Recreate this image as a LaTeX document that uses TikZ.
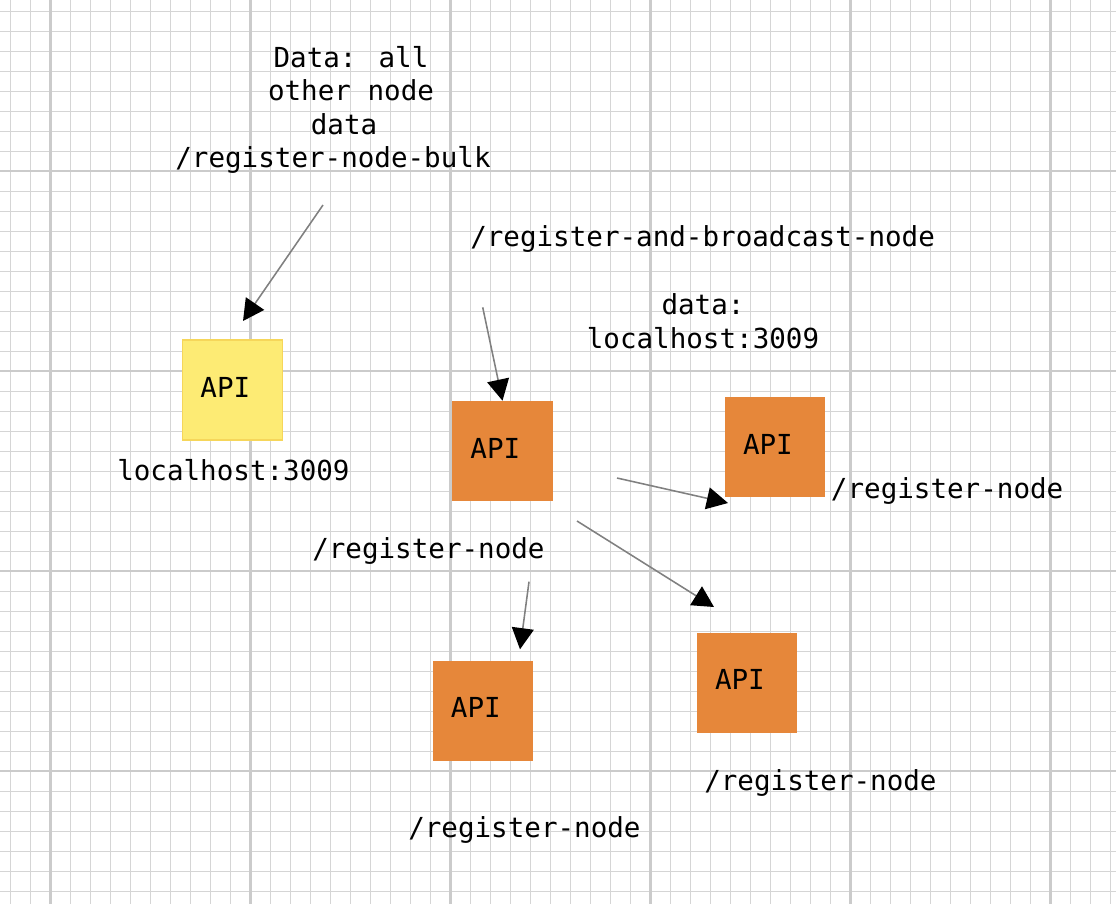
\documentclass[tikz,border=0pt]{standalone}
\usepackage{fontspec}
\usepackage{tikz}
\usetikzlibrary{arrows.meta}
\newfontfamily\apimono{DejaVu Sans Mono}
\definecolor{apiorange}{RGB}{230,135,58}
\definecolor{apiyellow}{RGB}{253,235,116}
\definecolor{apiyellowline}{RGB}{246,214,90}
\definecolor{gridminor}{RGB}{213,213,213}
\definecolor{gridmajor}{RGB}{203,203,203}
\tikzset{
  minorline/.style={gridminor,line width=0.7pt},
  majorline/.style={gridmajor,line width=1.6pt},
  apibox/.style={minimum height=2.5cm,text width=1.6cm,inner xsep=0.45cm,
                 inner ysep=0pt,align=left,text depth=0.15cm},
  lab/.style={anchor=base west,inner sep=0pt},
  arr/.style={gray,line width=1.1pt,
              -{Triangle[length=5.3mm,width=5.5mm,color=black]}}
}

\begin{document}
\begin{tikzpicture}[x=0.025cm,y=-0.025cm,
    font=\apimono\fontsize{19.6pt}{23.8pt}\selectfont]
\useasboundingbox (0,0) rectangle (1116,904);
\fill[white] (0,0) rectangle (1116,904); % sfondo

% griglia
\foreach \x in {10.5,30.5,...,1111}
  \draw[minorline] (\x,0) -- (\x,904);
\foreach \y in {11,31,...,904}
  \draw[minorline] (0,\y) -- (1116,\y);
\foreach \x in {50.5,250.5,...,1111}
  \draw[majorline] (\x,0) -- (\x,904);
\foreach \y in {171,371,...,904}
  \draw[majorline] (0,\y) -- (1116,\y);

% nodo che riceve i dati di tutti gli altri
\node[align=center,anchor=base,inner sep=0pt] (bulk) at (333,167.5)
     {\hspace*{0.9cm}Data: all\\\hspace*{0.9cm}other node\\
      \hspace*{0.55cm}data\\/register-node-bulk}; % base = ultima riga
\node[apibox,fill=apiyellow,draw=apiyellowline,line width=1pt] (api0)
     at (232.5,390) {API};
\node[lab] (host0) at (117,480) {localhost:3009};

% nodo che fa il broadcast
\node[lab] (bcast) at (470,246.7) {/register-and-broadcast-node};
\node[align=center,anchor=base,inner sep=0pt] (bdata) at (703,348)
     {data:\\localhost:3009};
\node[apibox,fill=apiorange] (api1) at (502.5,451) {API};
\node[lab] (reg1) at (312,558) {/register-node};

% nodi registrati
\node[apibox,fill=apiorange] (api2) at (775,447) {API};
\node[lab] (reg2) at (830.7,498.3) {/register-node};
\node[apibox,fill=apiorange] (api3) at (483,710.5) {API};
\node[lab] (reg3) at (408,837) {/register-node};
\node[apibox,fill=apiorange] (api4) at (747,682.5) {API};
\node[lab] (reg4) at (704,790) {/register-node};

% frecce
\coordinate (s0) at (323,205);   \coordinate (e0) at (243,321);
\coordinate (s1) at (482.7,307.3);
\coordinate (s2) at (617,478);   \coordinate (e2) at (728,503);
\coordinate (s3) at (577,521);   \coordinate (e3) at (714,607);
\coordinate (s4) at (529,581.7); \coordinate (e4) at (520,649.3);
\draw[arr] (s0) -- (e0);
\draw[arr] (s1) -- (api1.north);
\draw[arr] (s2) -- (e2);
\draw[arr] (s3) -- (e3);
\draw[arr] (s4) -- (e4);
\end{tikzpicture}
\end{document}
